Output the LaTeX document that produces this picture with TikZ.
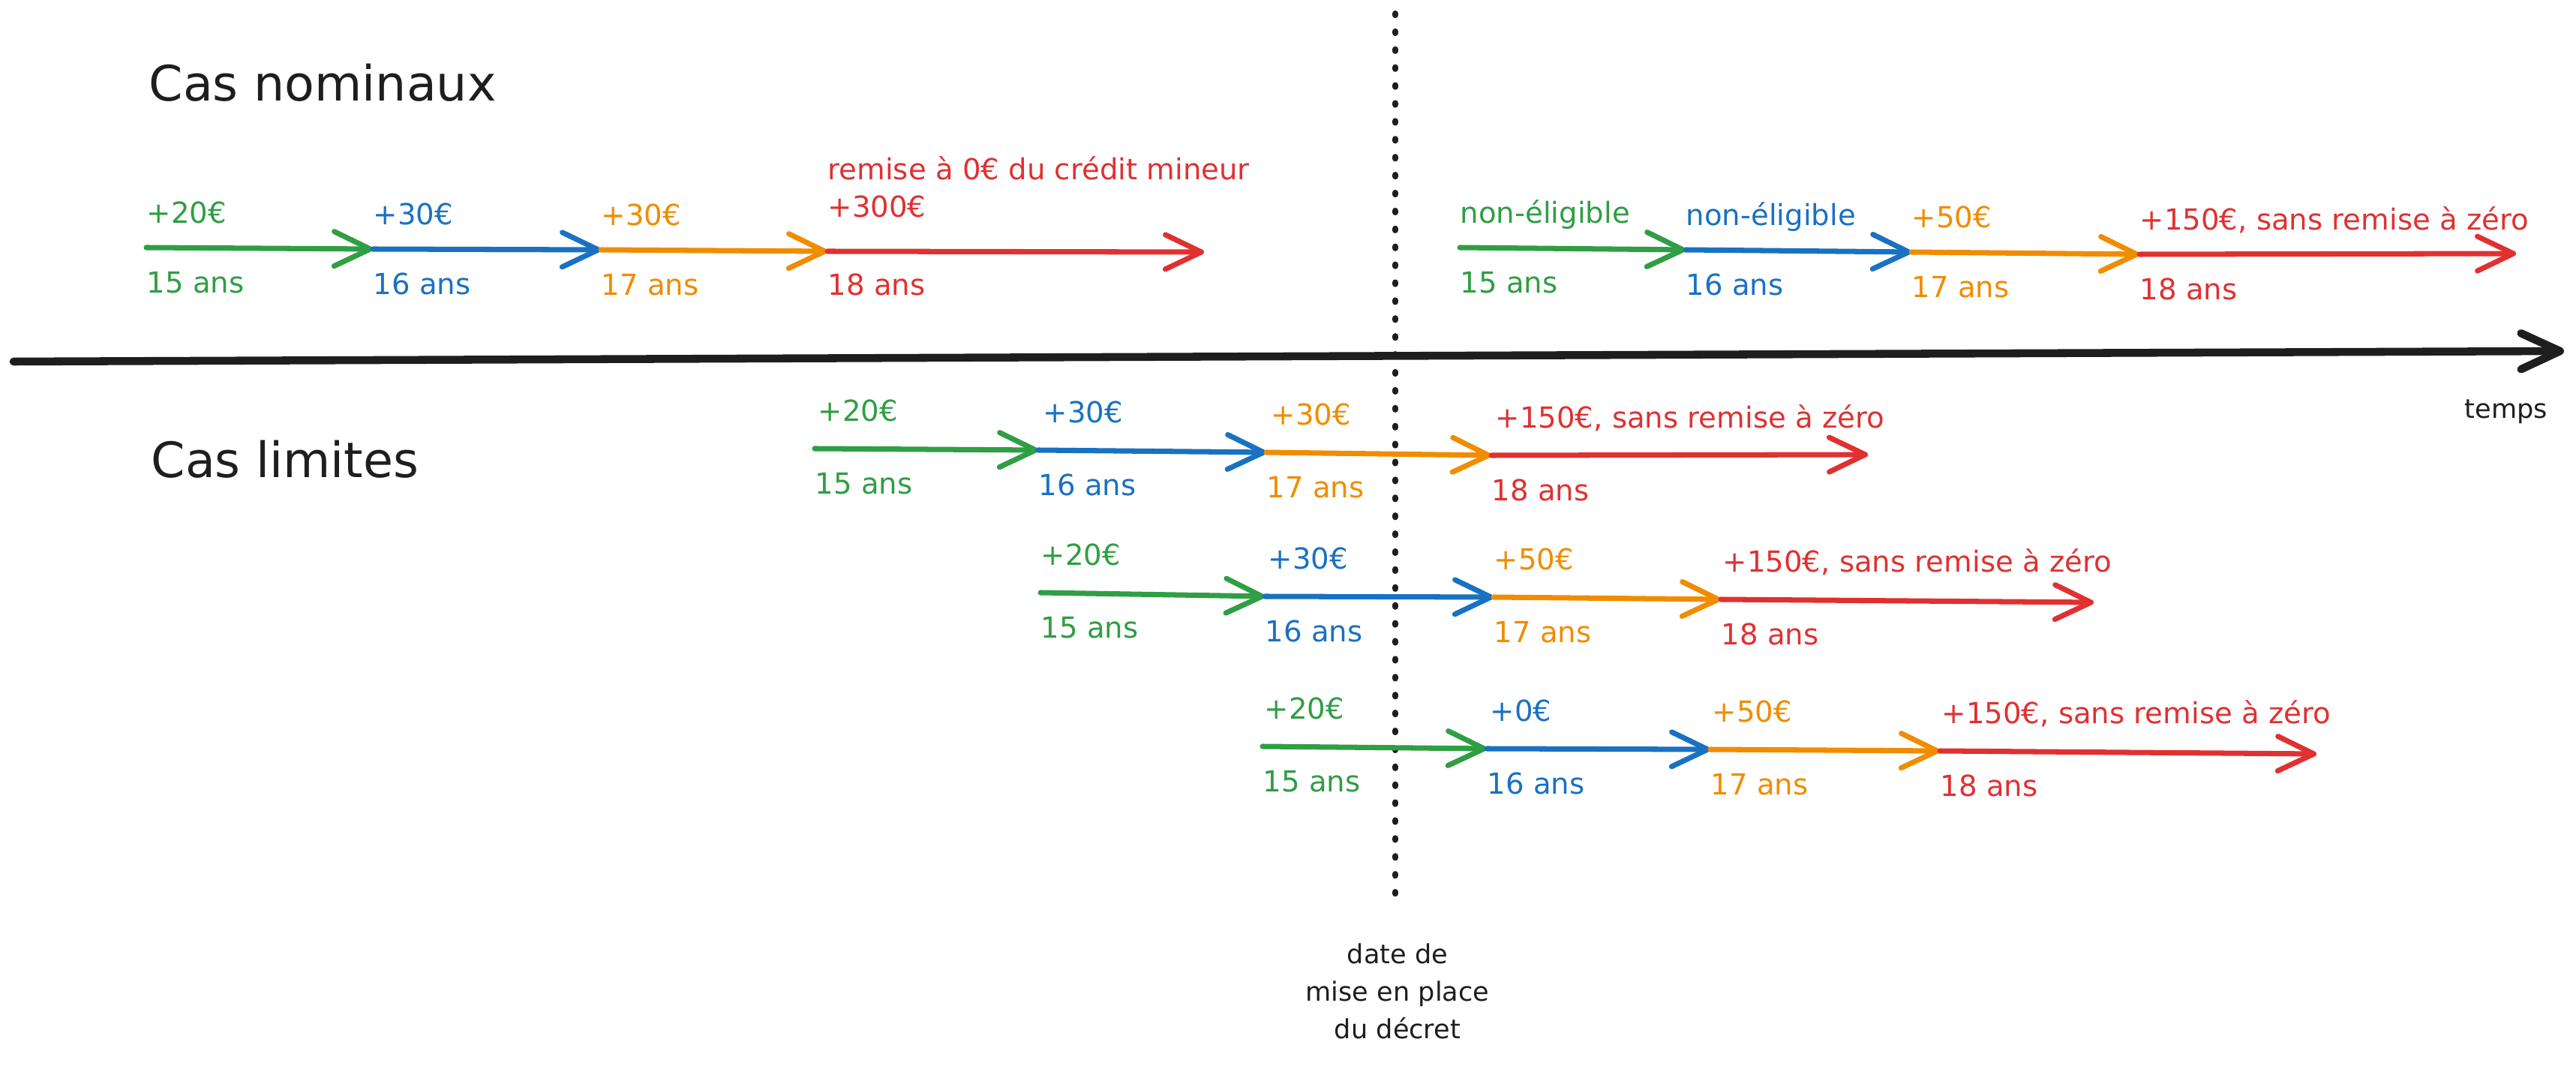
\documentclass[tikz,border=0pt]{standalone}
\usepackage{fontspec}
\setmainfont{DejaVu Sans}
\usepackage{xcolor}
\usepackage{tikz}
\usetikzlibrary{arrows.meta}
\usetikzlibrary{positioning}
\definecolor{cvert}{HTML}{2F9E44}
\definecolor{cbleu}{HTML}{1971C2}
\definecolor{corange}{HTML}{F08C00}
\definecolor{crouge}{HTML}{E03131}
\definecolor{cnoir}{HTML}{1E1E1E}
\begin{document}
\begin{tikzpicture}[
	fleche/.style={line width=2pt, line cap=round, -{Straight Barb[round,length=4.8mm,width=4.6mm]}},
	axe/.style={cnoir, line width=3pt, line cap=round, -{Straight Barb[round,length=5.2mm,width=4.8mm]}},
	pointille/.style={cnoir, line width=2.3pt, line cap=round, dash pattern=on 0.6pt off 6.2pt},
	lbl/.style={inner sep=0pt, text height=8pt, text depth=0pt, font=\fontsize{11}{13}\selectfont},
	titre/.style={inner sep=0pt, anchor=base west, cnoir, font=\fontsize{18.5}{22}\selectfont},
	note/.style={inner sep=0pt, cnoir, align=center, font=\fontsize{10}{14.2}\selectfont}
]
	\useasboundingbox (0,0) rectangle (34.34,-14.21);
	\node[titre] (nominaux) at (1.98,-1.35) {Cas nominaux};
	\node[titre] (limites) at (2.01,-6.37) {Cas limites};
	\coordinate (t0) at (0.18,-4.82);
	\coordinate (t1) at (34.18,-4.68);
	\draw[axe] (t0) -- (t1);
	\node[inner sep=0pt, anchor=base, cnoir, font=\fontsize{10}{12}\selectfont] (temps) at (33.41,-5.58) {temps};
	\coordinate (dHaut) at (18.60,-0.18);
	\coordinate (dBas) at (18.60,-11.94);
	\draw[pointille] (dHaut) -- (dBas);
	\node[note, anchor=north] (decret) at (18.63,-12.57) {date de\\mise en place\\du décret};

	\coordinate (a0) at (1.95,-3.30);
	\coordinate (a1) at (4.97,-3.32);
	\coordinate (a2) at (8.01,-3.33);
	\coordinate (a3) at (11.03,-3.35);
	\coordinate (a4) at (16.05,-3.36);
	\draw[fleche, cvert] (a0) -- (a1);
	\draw[fleche, cbleu] (a1) -- (a2);
	\draw[fleche, corange] (a2) -- (a3);
	\draw[fleche, crouge] (a3) -- (a4);
	\node[lbl, cvert, above right=0.32cm and 0cm of a0] (a0h) {+20€};
	\node[lbl, cvert, below right=0.32cm and 0cm of a0] (a0b) {15 ans};
	\node[lbl, cbleu, above right=0.32cm and 0cm of a1] (a1h) {+30€};
	\node[lbl, cbleu, below right=0.32cm and 0cm of a1] (a1b) {16 ans};
	\node[lbl, corange, above right=0.32cm and 0cm of a2] (a2h) {+30€};
	\node[lbl, corange, below right=0.32cm and 0cm of a2] (a2b) {17 ans};
	\node[lbl, crouge, above right=0.45cm and 0cm of a3] (a3h) {+300€};
	\node[lbl, crouge, above right=0.95cm and 0cm of a3] (a3r) {remise à 0€ du crédit mineur};
	\node[lbl, crouge, below right=0.30cm and 0cm of a3] (a3b) {18 ans};

	\coordinate (b0) at (19.46,-3.30);
	\coordinate (b1) at (22.47,-3.33);
	\coordinate (b2) at (25.48,-3.36);
	\coordinate (b3) at (28.52,-3.39);
	\coordinate (b4) at (33.54,-3.38);
	\draw[fleche, cvert] (b0) -- (b1);
	\draw[fleche, cbleu] (b1) -- (b2);
	\draw[fleche, corange] (b2) -- (b3);
	\draw[fleche, crouge] (b3) -- (b4);
	\node[lbl, cvert, above right=0.32cm and 0cm of b0] (b0h) {non-éligible};
	\node[lbl, cvert, below right=0.32cm and 0cm of b0] (b0b) {15 ans};
	\node[lbl, cbleu, above right=0.32cm and 0cm of b1] (b1h) {non-éligible};
	\node[lbl, cbleu, below right=0.32cm and 0cm of b1] (b1b) {16 ans};
	\node[lbl, corange, above right=0.32cm and 0cm of b2] (b2h) {+50€};
	\node[lbl, corange, below right=0.32cm and 0cm of b2] (b2b) {17 ans};
	\node[lbl, crouge, above right=0.32cm and 0cm of b3] (b3h) {+150€, sans remise à zéro};
	\node[lbl, crouge, below right=0.32cm and 0cm of b3] (b3b) {18 ans};

	\coordinate (c0) at (10.86,-5.98);
	\coordinate (c1) at (13.84,-6.00);
	\coordinate (c2) at (16.88,-6.03);
	\coordinate (c3) at (19.88,-6.07);
	\coordinate (c4) at (24.90,-6.06);
	\draw[fleche, cvert] (c0) -- (c1);
	\draw[fleche, cbleu] (c1) -- (c2);
	\draw[fleche, corange] (c2) -- (c3);
	\draw[fleche, crouge] (c3) -- (c4);
	\node[lbl, cvert, above right=0.36cm and 0.04cm of c0] (c0h) {+20€};
	\node[lbl, cvert, below right=0.32cm and 0cm of c0] (c0b) {15 ans};
	\node[lbl, cbleu, above right=0.36cm and 0.06cm of c1] (c1h) {+30€};
	\node[lbl, cbleu, below right=0.32cm and 0cm of c1] (c1b) {16 ans};
	\node[lbl, corange, above right=0.36cm and 0.06cm of c2] (c2h) {+30€};
	\node[lbl, corange, below right=0.32cm and 0cm of c2] (c2b) {17 ans};
	\node[lbl, crouge, above right=0.36cm and 0.05cm of c3] (c3h) {+150€, sans remise à zéro};
	\node[lbl, crouge, below right=0.32cm and 0cm of c3] (c3b) {18 ans};

	\coordinate (d0) at (13.87,-7.90);
	\coordinate (d1) at (16.86,-7.95);
	\coordinate (d2) at (19.91,-7.96);
	\coordinate (d3) at (22.94,-7.99);
	\coordinate (d4) at (27.91,-8.03);
	\draw[fleche, cvert] (d0) -- (d1);
	\draw[fleche, cbleu] (d1) -- (d2);
	\draw[fleche, corange] (d2) -- (d3);
	\draw[fleche, crouge] (d3) -- (d4);
	\node[lbl, cvert, above right=0.36cm and 0cm of d0] (d0h) {+20€};
	\node[lbl, cvert, below right=0.32cm and 0cm of d0] (d0b) {15 ans};
	\node[lbl, cbleu, above right=0.36cm and 0.04cm of d1] (d1h) {+30€};
	\node[lbl, cbleu, below right=0.32cm and 0cm of d1] (d1b) {16 ans};
	\node[lbl, corange, above right=0.36cm and 0cm of d2] (d2h) {+50€};
	\node[lbl, corange, below right=0.32cm and 0cm of d2] (d2b) {17 ans};
	\node[lbl, crouge, above right=0.36cm and 0.02cm of d3] (d3h) {+150€, sans remise à zéro};
	\node[lbl, crouge, below right=0.32cm and 0cm of d3] (d3b) {18 ans};

	\coordinate (e0) at (16.83,-9.95);
	\coordinate (e1) at (19.82,-9.98);
	\coordinate (e2) at (22.80,-9.99);
	\coordinate (e3) at (25.86,-10.01);
	\coordinate (e4) at (30.88,-10.05);
	\draw[fleche, cvert] (e0) -- (e1);
	\draw[fleche, cbleu] (e1) -- (e2);
	\draw[fleche, corange] (e2) -- (e3);
	\draw[fleche, crouge] (e3) -- (e4);
	\node[lbl, cvert, above right=0.36cm and 0.02cm of e0] (e0h) {+20€};
	\node[lbl, cvert, below right=0.32cm and 0cm of e0] (e0b) {15 ans};
	\node[lbl, cbleu, above right=0.36cm and 0.04cm of e1] (e1h) {+0€};
	\node[lbl, cbleu, below right=0.32cm and 0cm of e1] (e1b) {16 ans};
	\node[lbl, corange, above right=0.36cm and 0.02cm of e2] (e2h) {+50€};
	\node[lbl, corange, below right=0.32cm and 0cm of e2] (e2b) {17 ans};
	\node[lbl, crouge, above right=0.36cm and 0.02cm of e3] (e3h) {+150€, sans remise à zéro};
	\node[lbl, crouge, below right=0.32cm and 0cm of e3] (e3b) {18 ans};
\end{tikzpicture}
\end{document}
